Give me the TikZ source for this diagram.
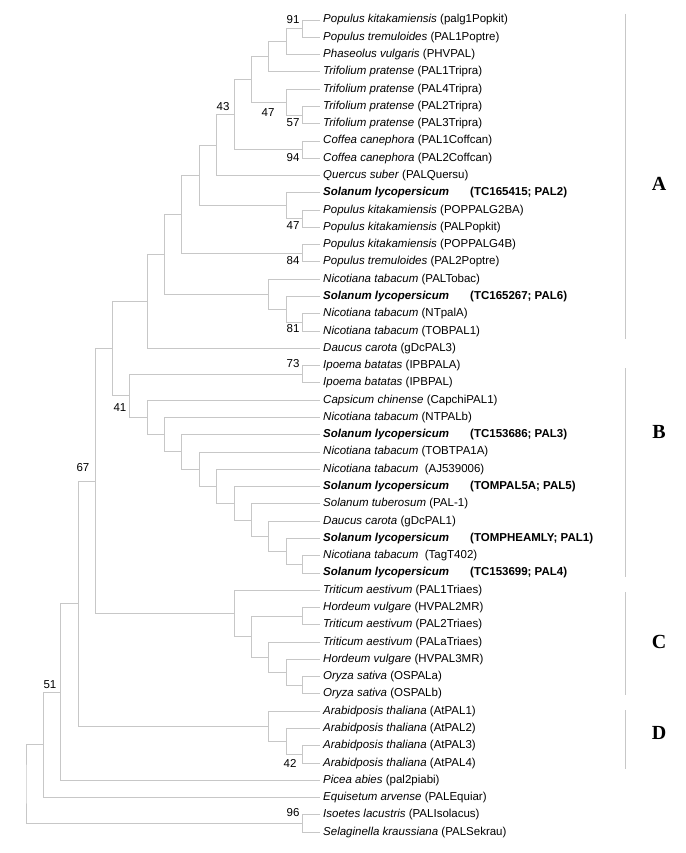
\documentclass[tikz,border=0pt]{standalone}
\usepackage{fontspec}
\setmainfont{Liberation Sans}
\newfontfamily\cladefont{Liberation Serif}
\usepackage{tikz}

\newcommand{\solyc}[1]{\textbf{\makebox[147pt][l]{\textit{Solanum lycopersicum}}(#1)}}

\begin{document}
\begin{tikzpicture}[
  x=1pt, y=-1pt,
  every node/.style={font=\fontsize{11.5}{13}\selectfont},
  leaf/.style ={anchor=west, inner sep=3pt},
  boot/.style ={inner sep=0pt},
  br/.style   ={draw=black!22, line width=0.9pt},
  bar/.style  ={draw=black!22, line width=0.9pt},
  tag/.style  ={font=\cladefont\bfseries\fontsize{20}{20}\selectfont},
]
  \useasboundingbox (0,0) rectangle (685,853);

  % leaves, top to bottom
  \foreach \txt [count=\i] in {
    {\textit{Populus kitakamiensis} (palg1Popkit)},
    {\textit{Populus tremuloides} (PAL1Poptre)},
    {\textit{Phaseolus vulgaris} (PHVPAL)},
    {\textit{Trifolium pratense} (PAL1Tripra)},
    {\textit{Trifolium pratense} (PAL4Tripra)},
    {\textit{Trifolium pratense} (PAL2Tripra)},
    {\textit{Trifolium pratense} (PAL3Tripra)},
    {\textit{Coffea canephora} (PAL1Coffcan)},
    {\textit{Coffea canephora} (PAL2Coffcan)},
    {\textit{Quercus suber} (PALQuersu)},
    {\solyc{TC165415; PAL2}},
    {\textit{Populus kitakamiensis} (POPPALG2BA)},
    {\textit{Populus kitakamiensis} (PALPopkit)},
    {\textit{Populus kitakamiensis} (POPPALG4B)},
    {\textit{Populus tremuloides} (PAL2Poptre)},
    {\textit{Nicotiana tabacum} (PALTobac)},
    {\solyc{TC165267; PAL6}},
    {\textit{Nicotiana tabacum} (NTpalA)},
    {\textit{Nicotiana tabacum} (TOBPAL1)},
    {\textit{Daucus carota} (gDcPAL3)},
    {\textit{Ipoema batatas} (IPBPALA)},
    {\textit{Ipoema batatas} (IPBPAL)},
    {\textit{Capsicum chinense} (CapchiPAL1)},
    {\textit{Nicotiana tabacum} (NTPALb)},
    {\solyc{TC153686; PAL3}},
    {\textit{Nicotiana tabacum} (TOBTPA1A)},
    {\textit{Nicotiana tabacum}\ \ (AJ539006)},
    {\solyc{TOMPAL5A; PAL5}},
    {\textit{Solanum tuberosum} (PAL-1)},
    {\textit{Daucus carota} (gDcPAL1)},
    {\solyc{TOMPHEAMLY; PAL1}},
    {\textit{Nicotiana tabacum}\ \ (TagT402)},
    {\solyc{TC153699; PAL4}},
    {\textit{Triticum aestivum} (PAL1Triaes)},
    {\textit{Hordeum vulgare} (HVPAL2MR)},
    {\textit{Triticum aestivum} (PAL2Triaes)},
    {\textit{Triticum aestivum} (PALaTriaes)},
    {\textit{Hordeum vulgare} (HVPAL3MR)},
    {\textit{Oryza sativa} (OSPALa)},
    {\textit{Oryza sativa} (OSPALb)},
    {\textit{Arabidposis thaliana} (AtPAL1)},
    {\textit{Arabidposis thaliana} (AtPAL2)},
    {\textit{Arabidposis thaliana} (AtPAL3)},
    {\textit{Arabidposis thaliana} (AtPAL4)},
    {\textit{Picea abies} (pal2piabi)},
    {\textit{Equisetum arvense} (PALEquiar)},
    {\textit{Isoetes lacustris} (PALIsolacus)},
    {\textit{Selaginella kraussiana} (PALSekrau)}}
    \node[leaf] (l\i) at (320,{20+(\i-1)*17.28}) {\txt};

  % inner nodes of clade A
  \coordinate (p1)  at (302.7,28.64);
  \coordinate (p2)  at (286.7,41.60);
  \coordinate (p3)  at (268.3,56.72);
  \coordinate (t1)  at (302.7,115.04);
  \coordinate (t2)  at (286.7,102.08);
  \coordinate (p4)  at (251.7,79.40);
  \coordinate (c1)  at (302.7,149.60);
  \coordinate (p5)  at (234.3,114.50);
  \coordinate (p6)  at (216.7,145.01);
  \coordinate (k1)  at (302.7,218.72);
  \coordinate (k2)  at (286.7,205.76);
  \coordinate (p7)  at (199.3,175.39);
  \coordinate (k3)  at (302.7,253.28);
  \coordinate (p8)  at (181.7,214.33);
  \coordinate (n1)  at (302.7,322.40);
  \coordinate (n2)  at (286.7,309.44);
  \coordinate (n3)  at (268.3,294.32);
  \coordinate (p9)  at (164.3,254.33);
  \coordinate (cA)  at (147.3,301.32);
  % clade B
  \coordinate (i1)  at (302.7,374.24);
  \coordinate (b1)  at (302.7,564.32);
  \coordinate (b2)  at (286.7,551.36);
  \coordinate (b3)  at (268.3,536.24);
  \coordinate (b4)  at (251.7,520.04);
  \coordinate (b5)  at (234.3,503.30);
  \coordinate (b6)  at (216.7,486.29);
  \coordinate (b7)  at (199.3,469.15);
  \coordinate (b8)  at (181.7,451.93);
  \coordinate (b9)  at (164.3,434.69);
  \coordinate (b10) at (147.3,417.42);
  \coordinate (cB)  at (129.3,395.83);
  \coordinate (cAB) at (112.7,348.58);
  % clade C
  \coordinate (w1)  at (302.7,616.16);
  \coordinate (o1)  at (302.7,685.28);
  \coordinate (w2)  at (286.7,672.32);
  \coordinate (w3)  at (268.3,657.20);
  \coordinate (w4)  at (251.7,636.68);
  \coordinate (cC)  at (234.3,613.46);
  \coordinate (cABC) at (95.7,481.02);
  % clade D
  \coordinate (d1)  at (302.7,754.40);
  \coordinate (d2)  at (286.7,741.44);
  \coordinate (cD)  at (268.3,726.32);
  \coordinate (cABCD) at (78.3,603.67);
  % base
  \coordinate (r1)  at (60.3,692.00);
  \coordinate (r2)  at (43.3,744.80);
  \coordinate (s1)  at (302.7,823.52);
  \coordinate (root) at (26,784.16);

  % branches
  \draw[br] (l1.west) -| (p1) |- (l2.west);
  \draw[br] (p1) -| (p2) |- (l3.west);
  \draw[br] (p2) -| (p3) |- (l4.west);
  \draw[br] (l6.west) -| (t1) |- (l7.west);
  \draw[br] (l5.west) -| (t2) |- (t1);
  \draw[br] (p3) -| (p4) |- (t2);
  \draw[br] (l8.west) -| (c1) |- (l9.west);
  \draw[br] (p4) -| (p5) |- (c1);
  \draw[br] (p5) -| (p6) |- (l10.west);
  \draw[br] (l12.west) -| (k1) |- (l13.west);
  \draw[br] (l11.west) -| (k2) |- (k1);
  \draw[br] (p6) -| (p7) |- (k2);
  \draw[br] (l14.west) -| (k3) |- (l15.west);
  \draw[br] (p7) -| (p8) |- (k3);
  \draw[br] (l18.west) -| (n1) |- (l19.west);
  \draw[br] (l17.west) -| (n2) |- (n1);
  \draw[br] (l16.west) -| (n3) |- (n2);
  \draw[br] (p8) -| (p9) |- (n3);
  \draw[br] (p9) -| (cA) |- (l20.west);
  \draw[br] (l21.west) -| (i1) |- (l22.west);
  \draw[br] (l32.west) -| (b1) |- (l33.west);
  \draw[br] (l31.west) -| (b2) |- (b1);
  \draw[br] (l30.west) -| (b3) |- (b2);
  \draw[br] (l29.west) -| (b4) |- (b3);
  \draw[br] (l28.west) -| (b5) |- (b4);
  \draw[br] (l27.west) -| (b6) |- (b5);
  \draw[br] (l26.west) -| (b7) |- (b6);
  \draw[br] (l25.west) -| (b8) |- (b7);
  \draw[br] (l24.west) -| (b9) |- (b8);
  \draw[br] (l23.west) -| (b10) |- (b9);
  \draw[br] (i1) -| (cB) |- (b10);
  \draw[br] (cA) -| (cAB) |- (cB);
  \draw[br] (l35.west) -| (w1) |- (l36.west);
  \draw[br] (l39.west) -| (o1) |- (l40.west);
  \draw[br] (l38.west) -| (w2) |- (o1);
  \draw[br] (l37.west) -| (w3) |- (w2);
  \draw[br] (w1) -| (w4) |- (w3);
  \draw[br] (l34.west) -| (cC) |- (w4);
  \draw[br] (cAB) -| (cABC) |- (cC);
  \draw[br] (l43.west) -| (d1) |- (l44.west);
  \draw[br] (l42.west) -| (d2) |- (d1);
  \draw[br] (l41.west) -| (cD) |- (d2);
  \draw[br] (cABC) -| (cABCD) |- (cD);
  \draw[br] (cABCD) -| (r1) |- (l45.west);
  \draw[br] (r1) -| (r2) |- (l46.west);
  \draw[br] (l47.west) -| (s1) |- (l48.west);
  \draw[br] (r2) -| (root) |- (s1);

  % bootstrap values
  \node[boot] (bs91) at (293,20)  {91};
  \node[boot] (bs57) at (293,123) {57};
  \node[boot] (bs47a) at (268,113) {47};
  \node[boot] (bs94) at (293,158) {94};
  \node[boot] (bs43) at (223,107) {43};
  \node[boot] (bs47b) at (293,226) {47};
  \node[boot] (bs84) at (293,261) {84};
  \node[boot] (bs81) at (293,329) {81};
  \node[boot] (bs73) at (293,364) {73};
  \node[boot] (bs41) at (120,408) {41};
  \node[boot] (bs67) at (83,468)  {67};
  \node[boot] (bs42) at (290,763) {42};
  \node[boot] (bs51) at (50,685)  {51};
  \node[boot] (bs96) at (293,813) {96};

  % clade bars
  \draw[bar] (625,14)  -- (625,339);
  \draw[bar] (625,368) -- (625,577);
  \draw[bar] (625,592) -- (625,695);
  \draw[bar] (625,710) -- (625,769);
  \node[tag] (gA) at (659,184) {A};
  \node[tag] (gB) at (659,432) {B};
  \node[tag] (gC) at (659,642) {C};
  \node[tag] (gD) at (659,733) {D};
\end{tikzpicture}
\end{document}
